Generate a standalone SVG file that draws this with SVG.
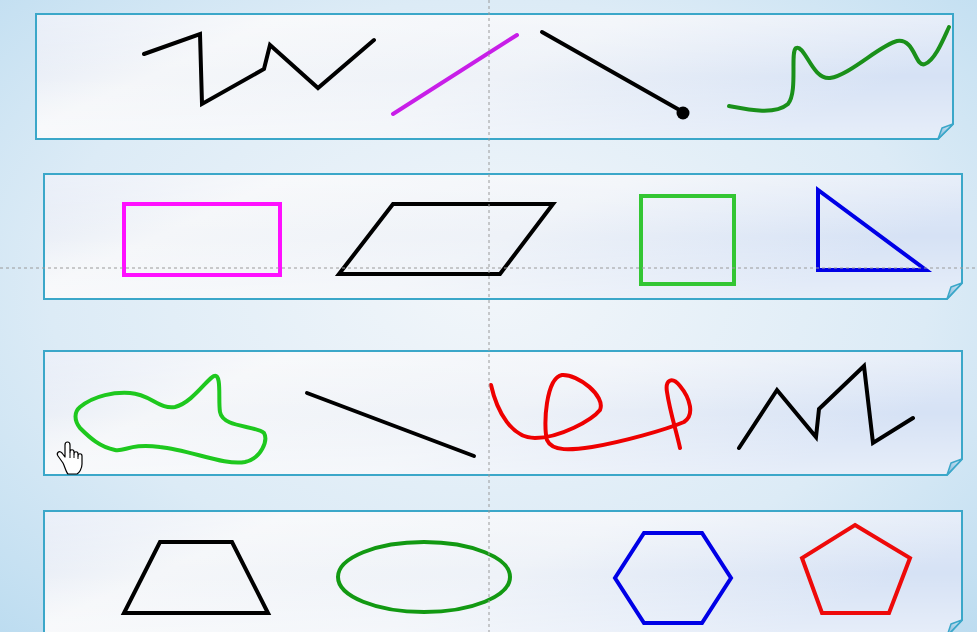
<svg xmlns="http://www.w3.org/2000/svg" width="977" height="632" viewBox="0 0 977 632">
<defs>
<radialGradient id="bg" cx="0.5" cy="0.45" r="0.75">
<stop offset="0" stop-color="#f2f6fa"/>
<stop offset="0.6" stop-color="#dcebf6"/>
<stop offset="1" stop-color="#bcdcf0"/>
</radialGradient>
<linearGradient id="pf" x1="0" y1="0" x2="1" y2="0.3">
<stop offset="0" stop-color="#dfe7f5"/>
<stop offset="0.25" stop-color="#f4f6f9"/>
<stop offset="0.6" stop-color="#eef2f8"/>
<stop offset="1" stop-color="#d6e2f5"/>
</linearGradient>
<linearGradient id="pv" x1="0" y1="0" x2="0" y2="1">
<stop offset="0" stop-color="#ffffff" stop-opacity="0.35"/>
<stop offset="0.5" stop-color="#ffffff" stop-opacity="0"/>
<stop offset="1" stop-color="#ffffff" stop-opacity="0.4"/>
</linearGradient>
<linearGradient id="fold" x1="0" y1="1" x2="1" y2="0">
<stop offset="0" stop-color="#7fb4d8"/>
<stop offset="1" stop-color="#d9ecf7"/>
</linearGradient>
</defs>
<style>
.panel{fill:url(#pf);stroke:#3ba7c9;stroke-width:2}
.sheen{fill:url(#pv)}
.fold{fill:url(#fold);stroke:#3ba7c9;stroke-width:1.5;stroke-linejoin:round}
.s{fill:none;stroke-width:4;stroke-linejoin:miter;stroke-linecap:round}
.k{stroke:#000}
.guide{stroke:#9a9a9a;stroke-width:1;stroke-dasharray:3 3;fill:none}
</style>
<rect width="977" height="632" fill="url(#bg)"/>

<g id="panel1">
<path class="panel" d="M36,14 H953 V124 L938,139 H36 Z"/>
<path class="sheen" d="M37,15 H952 V124 L938,138 H37 Z"/>
<path class="fold" d="M953,124 L942,128 L938,139 Z"/>
<polyline class="s k" points="144,54 200,34 202,104 264,69 270,45 318,88 374,40"/>
<line class="s" stroke="#c81ee8" x1="393" y1="114" x2="517" y2="35"/>
<line class="s k" x1="542" y1="32" x2="683" y2="112"/>
<circle cx="683" cy="113" r="6.5" fill="#000"/>
<path class="s" stroke="#1a901a" d="M729,106 C750,110 775,115 788,104 C798,92 790,52 796,48 C805,44 812,80 830,78 C850,75 880,45 897,41 C915,38 915,68 925,64 C935,60 943,40 949,27"/>
</g>

<g id="panel2">
<path class="panel" d="M44,174 H962 V283 L947,299 H44 Z"/>
<path class="sheen" d="M45,175 H961 V283 L947,298 H45 Z"/>
<path class="fold" d="M962,283 L951,287 L947,299 Z"/>
<rect class="s" stroke="#ff10ff" stroke-linecap="butt" x="124" y="204" width="156" height="71"/>
<polygon class="s k" points="393,204 553,204 500,274 339,274"/>
<rect class="s" stroke="#33c633" stroke-linecap="butt" x="641" y="196" width="93" height="88"/>
<polygon class="s" stroke="#0000e6" points="818,190 818,270 926,270"/>
</g>

<g id="panel3">
<path class="panel" d="M44,351 H962 V459 L947,475 H44 Z"/>
<path class="sheen" d="M45,352 H961 V459 L947,474 H45 Z"/>
<path class="fold" d="M962,459 L951,463 L947,475 Z"/>
<path class="s" stroke="#1ec81e" d="M80,407 C95,395 115,392 130,393 C150,394 160,410 175,407 C192,403 208,378 214,376 C222,373 218,400 220,412 C223,428 255,425 264,433 C268,440 262,458 245,462 C225,466 190,450 160,447 C130,443 125,452 115,450 C100,447 90,438 80,428 C74,420 74,412 80,407 Z"/>
<line class="s k" x1="307" y1="393" x2="474" y2="456"/>
<path class="s" stroke="#ee0000" d="M491,385 C497,412 512,438 535,438 C560,438 592,420 600,410 C606,396 578,374 562,375 C546,378 543,425 547,440 C552,452 572,450 592,447 C622,442 665,430 684,422 C695,415 690,398 680,386 C672,376 665,380 667,392 C670,412 676,430 680,448"/>
<polyline class="s k" points="739,448 777,390 816,437 819,409 864,366 873,443 913,418"/>
<g id="cursor">
<path d="M63,463 L58,456 C56,453 59,450 62,453 L65,457 L65,445 C65,441 70,441 70,445 L70,452 C70,449 74,449 74,452 L74,454 C74,451 78,451 78,454 L78,456 C78,453 82,453 82,456 L82,464 C82,469 79,473 77,474 L68,474 C66,472 65,467 63,463 Z" fill="#fff" stroke="#000" stroke-width="1.2" stroke-linejoin="round"/>
<path d="M70,452 V458 M74,454 V458 M78,456 V459" stroke="#000" stroke-width="1" fill="none"/>
</g>
</g>

<g id="panel4">
<path class="panel" d="M44,511 H962 V620 L947,636 H44 Z"/>
<path class="sheen" d="M45,512 H961 V620 L947,635 H45 Z"/>
<path class="fold" d="M962,620 L951,624 L947,636 Z"/>
<polygon class="s k" points="160,542 232,542 268,613 124,613"/>
<ellipse class="s" stroke="#129912" cx="424" cy="577" rx="86" ry="35"/>
<polygon class="s" stroke="#0000e6" points="644,533 702,533 731,578 702,623 644,623 615,578"/>
<polygon class="s" stroke="#ee0a0a" points="855,525 910,558 889,613 822,613 802,558"/>
</g>

<g id="guides">
<line class="guide" x1="489" y1="0" x2="489" y2="632"/>
<line class="guide" x1="0" y1="268" x2="977" y2="268"/>
</g>
</svg>
